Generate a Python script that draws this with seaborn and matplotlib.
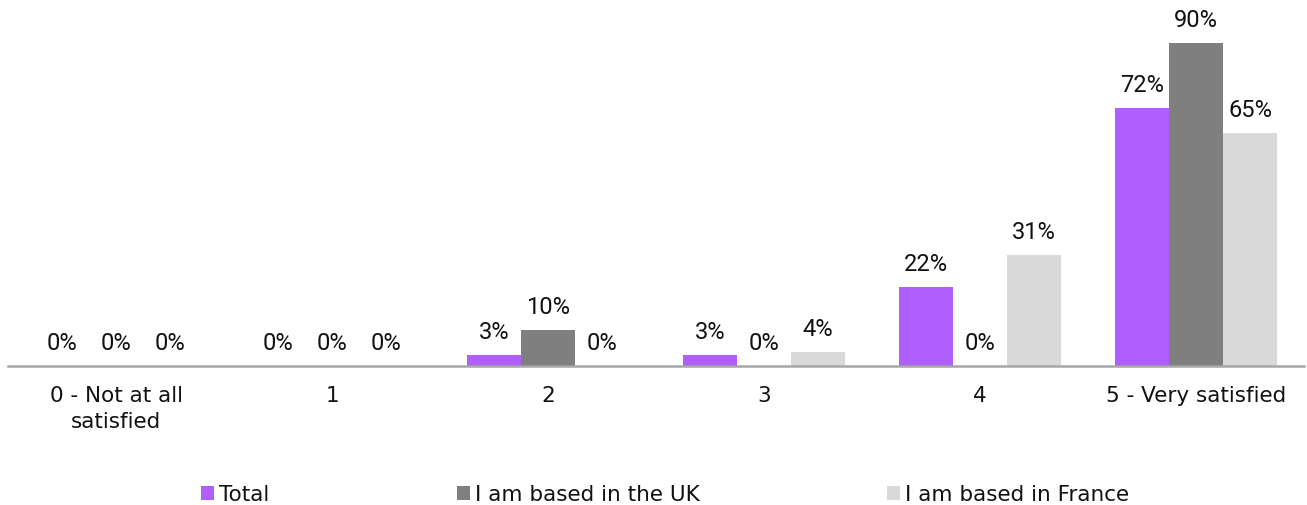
import matplotlib
matplotlib.use("Agg")
import matplotlib.pyplot as plt
import seaborn as sns
import pandas as pd

# Survey results: satisfaction rating by respondent location
ratings = ["0 - Not at all\nsatisfied", "1", "2", "3", "4", "5 - Very satisfied"]
series_names = ["Total", "I am based in the UK", "I am based in France"]
total = [0, 0, 3, 3, 22, 72]
based_uk = [0, 0, 10, 0, 0, 90]
based_france = [0, 0, 0, 4, 31, 65]
colors = ["#B15EFF", "#7F7F7F", "#D9D9D9"]

rows = []
for name, vals in zip(series_names, [total, based_uk, based_france]):
    for r, v in zip(ratings, vals):
        rows.append({"rating": r, "value": v, "group": name})
df = pd.DataFrame(rows)

sns.set_theme(style="white")
plt.rcParams["font.family"] = ["DejaVu Sans"]
text_color = "#111111"
word_size = 15.5
value_font = ["Roboto", "DejaVu Sans"]

fig = plt.figure(figsize=(13.07, 5.06), dpi=100)
ax = fig.add_axes([8 / 1307, 139 / 506, 1296 / 1307, 367 / 506])

sns.barplot(data=df, x="rating", y="value", hue="group", order=ratings,
            hue_order=series_names, palette=colors, saturation=1,
            width=0.75, linewidth=0, ax=ax, legend=True)

# percentage labels above every bar
for cont in ax.containers:
    ax.bar_label(cont, labels=[f"{v:.0f}%" for v in cont.datavalues],
                 padding=8.5, fontsize=17, family=value_font,
                 color=text_color)

ax.set_ylim(0, 102.3)
ax.set_xlim(-0.5, len(ratings) - 0.5)
ax.set_xlabel("")
ax.set_ylabel("")
ax.set_yticks([])
ax.tick_params(axis="x", length=0, pad=14, labelsize=word_size,
               labelcolor=text_color)
for lbl in ax.get_xticklabels():
    lbl.set_linespacing(1.33)
    lbl.set_va("top")
for side in ["top", "left", "right"]:
    ax.spines[side].set_visible(False)
ax.spines["bottom"].set_color("#A6A6A6")
ax.spines["bottom"].set_linewidth(1.8)

handles, labels = ax.get_legend_handles_labels()
ax.get_legend().remove()
leg = fig.legend(handles, labels, loc="center", bbox_to_anchor=(0.509, 0.021),
                 ncol=3, frameon=False, fontsize=word_size, handlelength=0.6,
                 handleheight=0.6, handletextpad=0.25, columnspacing=8.7,
                 borderaxespad=0, borderpad=0)
for t in leg.get_texts():
    t.set_color(text_color)

fig.savefig("out.png", dpi=100)
